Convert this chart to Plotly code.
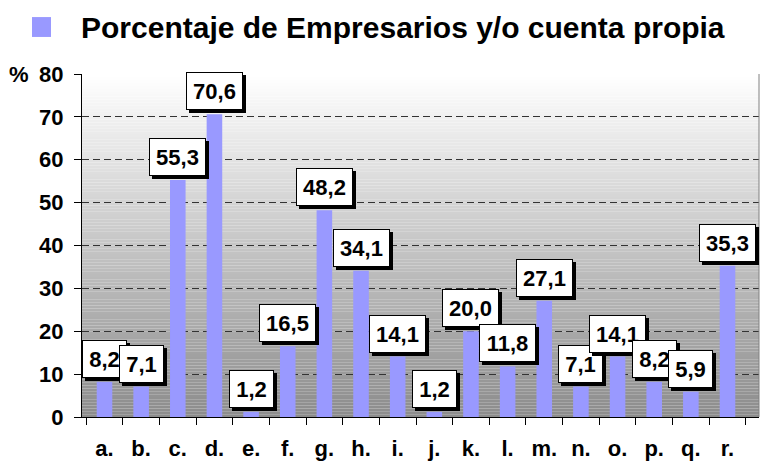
import plotly.graph_objects as go

categories = ["a.", "b.", "c.", "d.", "e.", "f.", "g.", "h.", "i.", "j.",
              "k.", "l.", "m.", "n.", "o.", "p.", "q.", "r."]
values = [8.2, 7.1, 55.3, 70.6, 1.2, 16.5, 48.2, 34.1, 14.1, 1.2,
          20.0, 11.8, 27.1, 7.1, 14.1, 8.2, 5.9, 35.3]
y_ticks = [0, 10, 20, 30, 40, 50, 60, 70, 80]
series_name = "Porcentaje de Empresarios y/o cuenta propia"

FONT = "Liberation Sans, Arial, sans-serif"
BAR = "#9999ff"
LBL = 22

fig = go.Figure()
fig.add_trace(go.Bar(x=categories, y=values, name=series_name,
                     marker=dict(color=BAR, line=dict(width=0)),
                     showlegend=False, hoverinfo="skip"))

# gradient plot background (white at top -> grey at bottom)
N = 120
shapes = []
for i in range(N):
    t = (i + 0.5) / N  # 0 bottom, 1 top
    g = int(round(140 + (255 - 140) * t))
    shapes.append(dict(type="rect", xref="paper", yref="paper", x0=0, x1=1,
                       y0=i / N, y1=(i + 1) / N, fillcolor=f"rgb({g},{g},{g})",
                       line=dict(width=0), layer="below"))
shapes.append(dict(type="line", xref="paper", yref="paper", x0=1, x1=1, y0=0, y1=1,
                   line=dict(color="#808080", width=1), layer="above"))
# legend swatch
shapes.append(dict(type="rect", xref="paper", yref="paper",
                   x0=-0.0739, x1=-0.0458, y0=1.108, y1=1.166,
                   fillcolor=BAR, line=dict(width=0), layer="above"))

annotations = []
for c, v in zip(categories, values):
    txt = f"{v:.1f}".replace(".", ",")
    ndig = sum(ch.isdigit() for ch in txt)
    w = round(ndig * 0.556 * LBL + 0.278 * LBL + 2)
    h = 26
    # shadow box (no text)
    annotations.append(dict(x=c, y=v, xref="x", yref="y", text=" ", showarrow=False,
                            yanchor="bottom", xanchor="center", yshift=1, xshift=3,
                            width=w, height=h,
                            font=dict(family=FONT, size=LBL, color="black"),
                            bgcolor="black", bordercolor="black", borderwidth=1, borderpad=5))
    annotations.append(dict(x=c, y=v, xref="x", yref="y", text=txt, showarrow=False,
                            yanchor="bottom", xanchor="center", yshift=4,
                            width=w, height=h,
                            font=dict(family=FONT, size=LBL, color="black", weight="bold"),
                            bgcolor="white", bordercolor="black", borderwidth=1, borderpad=5))
annotations.append(dict(x=-0.093, y=80, xref="paper", yref="y", text="%", showarrow=False,
                        xanchor="center", yanchor="middle",
                        font=dict(family=FONT, size=22, color="black", weight="bold")))
annotations.append(dict(x=-0.0044, y=1.137, xref="paper", yref="paper", text=series_name,
                        showarrow=False, xanchor="left", yanchor="middle",
                        font=dict(family=FONT, size=30, color="black", weight="bold")))

fig.update_layout(
    width=764, height=461,
    margin=dict(l=82, r=5, t=74, b=44, autoexpand=False),
    paper_bgcolor="white", plot_bgcolor="white",
    bargap=0.575,
    font=dict(family=FONT, color="black"),
    shapes=shapes, annotations=annotations,
    showlegend=False,
    xaxis=dict(showline=True, linecolor="black", linewidth=1, ticks="outside",
               ticklen=7, tickcolor="black", tickson="boundaries", showgrid=False,
               tickfont=dict(family=FONT, size=22, color="black", weight="bold"),
               ticklabelstandoff=12, automargin=False, fixedrange=True),
    yaxis=dict(range=[0, 80], tickvals=y_ticks, showline=True, linecolor="black",
               linewidth=1, ticks="outside", ticklen=7, tickcolor="black",
               showgrid=True, gridcolor="#333333", griddash="7px,4px", gridwidth=1,
               zeroline=False, automargin=False,
               tickfont=dict(family=FONT, size=22, color="black", weight="bold"),
               ticklabelstandoff=6, fixedrange=True),
)

fig.write_html("out.html", config={"displayModeBar": False},
               post_script="document.body.style.margin='0';document.body.style.overflow='hidden';")
